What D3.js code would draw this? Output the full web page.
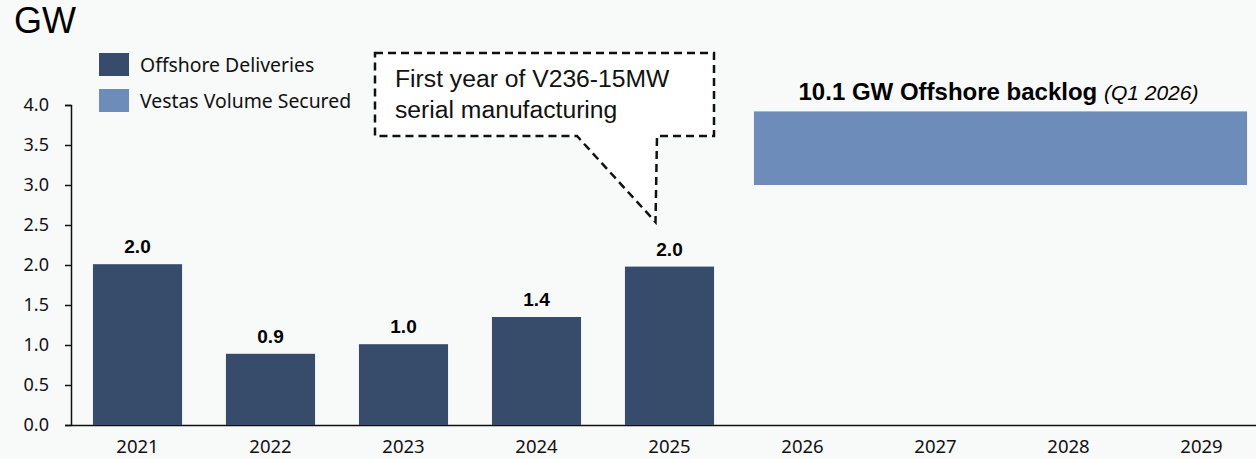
<!DOCTYPE html>
<html>
<head>
<script src="https://d3js.org/d3.v7.min.js"></script>
<title>Offshore deliveries</title>
<style>
body { margin: 0; background: #f8f9f9; }
#root { width: 1256px; height: 459px; display: block; }
.tick text { font-family: "Noto Sans", sans-serif; fill: #111; }
</style>
</head>
<body>
<svg id="root"></svg>
<script>
// data
let years = ['2021', '2022', '2023', '2024', '2025', '2026', '2027', '2028', '2029']
let deliveryYears = ['2021', '2022', '2023', '2024', '2025']
let deliveries = [2.01, 0.89, 1.01, 1.35, 1.98]
let deliveryLabels = ['2.0', '0.9', '1.0', '1.4', '2.0']
let backlogYears = ['2026', '2029']
let backlogRange = [3.0, 3.92]
let yTicks = [0, 0.5, 1, 1.5, 2, 2.5, 3, 3.5, 4]

let darkBlue = '#374b6b'
let lightBlue = '#6e8cb9'

let svg = d3.select('#root')

let x = d3.scaleBand().domain(years).range([71, 1268]).paddingInner(0.33).paddingOuter(0.165)
let y = d3.scaleLinear().domain([0, 4]).range([425, 105])

// axes
let yAxis = svg.append('g').attr('transform', 'translate(71,0)')
	.call(d3.axisLeft(y).tickValues(yTicks).tickFormat(d3.format('.1f')).tickSize(6).tickPadding(16))
yAxis.select('.domain').attr('stroke', '#111').attr('stroke-width', 1.5)
yAxis.selectAll('.tick line').attr('stroke', '#111').attr('stroke-width', 1.5)
yAxis.selectAll('.tick text').style('font-size', '18px')

let xAxis = svg.append('g').attr('transform', 'translate(0,425)')
	.call(d3.axisBottom(x).tickSize(0).tickPadding(15))
xAxis.select('.domain').attr('stroke', '#111').attr('stroke-width', 1.5)
xAxis.selectAll('.tick text').style('font-size', '18.5px')

// delivery bars
svg.selectAll('.bar').data(deliveries).enter().append('rect')
	.attr('class', 'bar')
	.attr('x', (d, i) => x(deliveryYears[i]))
	.attr('width', x.bandwidth())
	.attr('y', d => y(d))
	.attr('height', d => y(0) - y(d))
	.attr('fill', darkBlue)

svg.selectAll('.barLabel').data(deliveries).enter().append('text')
	.attr('class', 'barLabel')
	.attr('x', (d, i) => x(deliveryYears[i]) + x.bandwidth() / 2)
	.attr('y', d => y(d) - 11)
	.attr('text-anchor', 'middle')
	.style('font-family', '"Liberation Sans", Arial, sans-serif')
	.style('font-weight', 'bold')
	.style('font-size', '19px')
	.text((d, i) => deliveryLabels[i])

// backlog block
let bx0 = x(backlogYears[0]) - 4
let bx1 = x(backlogYears[1]) + x.bandwidth() + 1
svg.append('rect')
	.attr('x', bx0)
	.attr('width', bx1 - bx0)
	.attr('y', y(backlogRange[1]))
	.attr('height', y(backlogRange[0]) - y(backlogRange[1]))
	.attr('fill', lightBlue)

let backlogText = svg.append('text')
	.attr('x', (bx0 + bx1) / 2 - 2)
	.attr('y', 100)
	.attr('text-anchor', 'middle')
	.style('font-family', '"Liberation Sans", Arial, sans-serif')
backlogText.append('tspan').style('font-weight', 'bold').style('font-size', '24px').text('10.1 GW Offshore backlog ')
backlogText.append('tspan').style('font-style', 'italic').style('font-size', '21px').text('(Q1 2026)')

// unit title
svg.append('text')
	.attr('x', 14).attr('y', 33)
	.style('font-family', '"Liberation Sans", Arial, sans-serif')
	.style('font-size', '36px')
	.text('GW')

// legend
let legendItems = [['Offshore Deliveries', darkBlue], ['Vestas Volume Secured', lightBlue]]
let legend = svg.selectAll('.legend').data(legendItems).enter().append('g')
	.attr('class', 'legend')
	.attr('transform', (d, i) => 'translate(99,' + (53 + i * 36) + ')')
legend.append('rect').attr('width', 30).attr('height', 23).attr('fill', d => d[1])
legend.append('text')
	.attr('x', 41).attr('y', 19)
	.style('font-family', '"Noto Sans", sans-serif')
	.style('font-size', '19.4px')
	.attr('fill', '#111')
	.text(d => d[0])

// callout pointing at 2025
let tipX = x('2025') + x.bandwidth() / 2 - 14
let tipY = 222
let box = { l: 375, t: 53, r: 714, b: 136 }
let callout = d3.path()
callout.moveTo(box.l, box.t)
callout.lineTo(box.r, box.t)
callout.lineTo(box.r, box.b)
callout.lineTo(657, box.b)
callout.lineTo(tipX, tipY)
callout.lineTo(577, box.b)
callout.lineTo(box.l, box.b)
callout.closePath()
svg.append('path')
	.attr('d', callout.toString())
	.attr('fill', '#ffffff')
	.attr('stroke', '#111')
	.attr('stroke-width', 2.5)
	.attr('stroke-dasharray', '8,5')

let calloutText = svg.append('text')
	.style('font-family', '"Liberation Sans", Arial, sans-serif')
	.style('font-size', '24.7px')
	.attr('fill', '#111')
calloutText.append('tspan').attr('x', 395).attr('y', 87).text('First year of V236-15MW')
calloutText.append('tspan').attr('x', 395).attr('y', 118).text('serial manufacturing')
</script>
</body>
</html>
